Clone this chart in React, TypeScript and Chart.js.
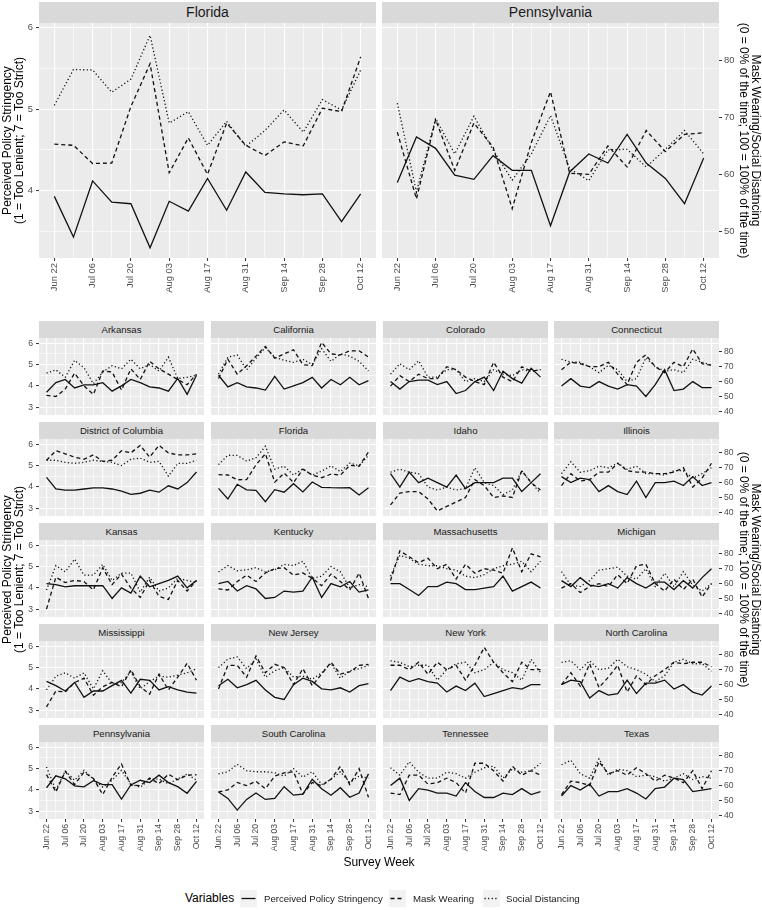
import React, { useEffect, useRef } from 'react';
import { Chart, registerables } from 'chart.js';
Chart.register(...registerables);

const FONT = "'Liberation Sans', Arial, Helvetica, sans-serif";

const WEEKS = ['Jun 22','Jun 29','Jul 06','Jul 13','Jul 20','Jul 27','Aug 03','Aug 10','Aug 17','Aug 24','Aug 31','Sep 07','Sep 14','Sep 21','Sep 28','Oct 05','Oct 12'];
const SERIES = ['Perceived Policy Stringency', 'Mask Wearing', 'Social Distancing'];
const Y_BREAKS_TOP = [4, 5, 6];
const Y_BREAKS_SMALL = [3, 4, 5, 6];
const PCT_BREAKS_TOP = [50, 60, 70, 80];
const PCT_BREAKS_SMALL = [40, 50, 60, 70, 80];

// Stringency on 1-7 scale; mask / distancing in percent
const FL_S = [3.93,3.43,4.12,3.86,3.84,3.30,3.87,3.75,4.15,3.76,4.23,3.98,3.96,3.95,3.96,3.62,3.96];
const FL_M = [65.3,65.1,61.9,62.0,71.9,79.4,60.3,66.4,60.0,69.0,65.1,63.3,65.7,65.0,71.6,71.0,80.6];
const FL_D = [72.1,78.4,78.3,74.4,76.7,84.4,69.0,71.0,65.1,69.3,64.9,67.7,71.3,67.4,73.1,71.3,78.3];
const PA_S = [4.10,4.66,4.52,4.19,4.14,4.43,4.25,4.25,3.57,4.23,4.45,4.34,4.69,4.34,4.15,3.84,4.40];
const PA_M = [67.4,55.7,69.6,60.7,69.0,64.8,54.0,65.6,74.5,60.2,60.0,65.0,61.3,67.7,64.0,67.0,67.3];
const PA_D = [72.5,56.9,69.8,63.6,70.2,64.3,59.0,63.6,70.3,61.0,58.9,64.3,64.4,61.3,64.4,67.7,63.6];
const AR_S = [3.70,4.15,4.30,3.90,4.05,4.05,4.15,3.75,4.00,4.30,4.15,3.95,3.90,3.75,4.35,3.60,4.50];
const AR_M = [50.7,50.0,55.0,65.7,57.1,51.4,67.1,66.4,54.3,68.6,61.4,73.6,68.6,65.0,61.4,57.9,65.0];
const AR_D = [65.7,67.9,62.9,74.3,69.3,58.6,66.4,70.7,68.6,75.0,68.6,71.4,67.1,76.4,62.1,62.9,64.3];
const CA_S = [4.50,3.95,4.15,3.95,3.90,3.80,4.45,3.85,4.00,4.15,4.40,3.90,4.30,4.05,4.40,4.05,4.25];
const CA_M = [62.1,75.0,65.0,70.7,77.1,83.6,75.7,78.6,81.4,71.4,70.7,86.4,78.6,77.9,80.7,80.7,76.4];
const CA_D = [65.0,76.4,77.9,67.9,75.7,82.9,76.4,74.3,72.9,75.0,71.4,82.1,73.6,78.6,77.1,73.6,67.1];
const CO_S = [4.20,3.85,4.20,4.27,4.27,4.06,4.20,3.64,3.78,4.20,4.41,3.78,4.69,4.34,4.13,4.83,4.41];
const CO_M = [57,64,60,65,62,62,70,68,63,60,58,73,63,60,70,67,68];
const CO_D = [65,72,68,74,63,63,68,68,60,62,60,68,65,64,68,67,68];
const CT_S = [3.99,4.34,3.99,3.92,4.20,3.99,3.85,4.06,3.99,3.50,4.06,4.76,3.78,3.85,4.20,3.92,3.92];
const CT_M = [68,73,72,70,70,73,65,58,73,78,70,66,73,70,82,72,71];
const CT_D = [75,73,73,70,66,71,68,60,62,76,70,67,68,66,75,73,71];
const DC_S = [4.45,3.90,3.85,3.85,3.90,3.95,3.95,3.90,3.80,3.65,3.70,3.85,3.75,4.05,3.90,4.20,4.70];
const DC_M = [75.0,81.4,79.3,77.1,75.7,78.6,74.3,75.0,81.4,80.0,85.0,77.1,85.0,80.0,78.6,78.6,79.3];
const DC_D = [75.0,75.0,73.6,72.9,73.6,75.0,74.3,73.6,71.4,75.7,76.4,73.6,74.3,64.3,72.9,72.9,75.0];
const ID_S = [4.62,3.99,4.69,4.20,4.41,4.20,3.99,4.55,3.92,4.20,4.20,4.20,4.41,4.41,3.78,4.20,4.62];
const ID_M = [45,53,54,54,49,41,44,47,50,62,58,50,51,50,68,60,55];
const ID_D = [67,69,67,66,57,55,57,55,56,70,60,58,52,55,68,60,53];
const IL_S = [4.48,4.20,4.41,4.34,3.78,4.06,3.78,3.64,4.27,3.50,4.20,4.20,4.27,4.06,4.48,4.06,4.20];
const IL_M = [58,66,61,62,67,67,73,68,67,67,66,66,67,70,57,63,73];
const IL_D = [66,74,67,68,71,70,73,69,71,66,66,65,68,68,63,66,70];
const KS_S = [4.20,4.15,4.05,4.10,4.10,4.10,4.10,3.50,4.00,3.75,4.55,4.05,4.20,4.35,4.55,4.00,4.35];
const KS_M = [42.9,64.3,60.7,62.1,61.4,55.7,70.7,59.3,66.4,57.1,50.7,62.1,51.4,49.3,62.1,55.0,62.1];
const KS_D = [55.7,72.1,67.9,76.4,65.7,65.7,72.9,62.1,67.1,67.1,54.3,64.3,55.0,57.1,63.6,62.1,60.7];
const KY_S = [4.20,4.30,3.85,4.10,3.95,3.50,3.55,3.85,3.80,3.85,4.50,3.55,4.20,4.05,4.30,3.80,3.90];
const KY_M = [56.4,55.7,61.4,65.7,61.4,67.1,70.0,70.7,65.7,67.1,63.6,58.6,66.4,61.4,55.7,67.1,50.0];
const KY_D = [67.9,72.1,68.6,69.3,70.7,67.9,69.3,72.9,72.1,75.0,63.6,65.0,71.4,67.9,57.1,59.3,57.9];
const MA_S = [4.20,4.20,3.92,3.64,4.06,4.06,4.27,4.20,3.92,3.92,3.99,4.06,4.55,3.85,4.06,4.27,3.99];
const MA_M = [62,82,78,74,77,70,73,63,73,67,70,69,67,84,68,80,78];
const MA_D = [65,79,77,73,72,72,70,69,65,64,66,70,72,73,75,68,75];
const MI_S = [4.34,4.06,4.48,4.13,4.06,4.20,3.99,4.48,4.20,3.99,4.27,4.27,3.92,4.34,3.99,4.48,4.90];
const MI_M = [57,60,54,58,60,58,66,60,72,73,60,55,63,56,63,51,60];
const MI_D = [68,59,58,62,69,70,71,65,63,70,58,67,58,68,59,55,60];
const MS_S = [4.35,4.15,3.90,4.30,3.60,3.90,3.90,4.15,4.40,3.80,4.45,4.40,3.95,4.10,3.95,3.85,3.80];
const MS_M = [45.0,55.7,55.0,61.4,64.3,52.9,58.6,61.4,58.6,70.0,58.6,53.6,67.1,56.4,65.0,74.3,62.9];
const MS_D = [56.4,65.7,67.9,64.3,67.9,57.1,69.3,60.7,61.4,68.6,57.1,62.1,65.7,65.0,66.4,67.9,70.7];
const NJ_S = [4.15,4.45,4.05,4.20,4.40,3.95,3.60,3.50,4.20,4.50,4.35,4.00,3.95,4.05,3.85,4.15,4.25];
const NJ_M = [57.1,72.9,72.9,65.0,79.3,67.9,73.6,71.4,60.0,70.7,59.3,67.1,75.0,67.1,68.6,72.9,73.6];
const NJ_D = [71.4,77.1,78.6,70.7,77.1,65.0,69.3,71.4,65.0,65.7,63.6,67.9,74.3,64.3,69.3,70.7,72.9];
const NY_S = [3.92,4.55,4.34,4.48,4.34,4.27,3.85,4.13,3.92,4.27,3.64,3.78,3.92,4.06,3.99,4.20,4.20];
const NY_M = [73,73,70,75,67,75,70,73,63,73,85,75,68,62,75,70,70];
const NY_D = [76,75,72,73,73,63,70,74,75,68,70,75,70,68,63,77,68];
const NC_S = [4.20,4.41,4.34,3.57,3.92,3.71,3.78,4.41,3.78,4.27,4.27,4.41,3.99,4.20,3.85,3.71,4.13];
const NC_M = [60,68,59,74,58,65,73,55,66,60,66,70,75,74,75,75,72];
const NC_D = [75,76,70,76,70,71,77,72,70,67,62,66,75,77,74,74,69];
const SC_S = [3.90,3.60,3.05,3.55,3.85,3.55,3.60,4.15,3.75,3.80,4.50,4.05,3.75,4.10,3.65,3.85,4.75];
const SC_M = [55.7,57.1,62.1,60.0,62.9,57.9,66.4,68.6,69.3,54.3,62.1,60.0,64.3,72.9,60.7,71.4,52.1];
const SC_D = [67.9,69.3,74.3,70.0,69.3,69.3,68.6,66.4,71.4,65.7,69.3,60.7,64.3,69.3,62.1,66.4,65.0];
const TN_S = [4.20,4.55,3.50,4.06,3.99,3.85,3.85,3.71,4.34,3.92,3.64,3.64,3.85,3.78,4.06,3.78,3.92];
const TN_M = [55,54,67,67,61,62,65,62,55,75,75,70,63,73,67,70,67];
const TN_D = [72,67,76,69,65,65,69,68,65,69,72,73,65,71,69,70,75];
const TX_S = [3.71,4.20,3.99,4.27,3.71,3.92,3.92,4.06,3.85,3.57,4.06,4.13,4.55,4.48,3.92,3.99,4.06];
const TX_M = [54,63,62,60,76,68,70,67,72,68,63,67,65,62,70,58,70];
const TX_D = [74,77,68,65,78,67,71,70,66,67,66,63,65,68,64,66,65];

const SMALL: [string, number[], number[], number[]][] = [
  ['Arkansas', AR_S, AR_M, AR_D], ['California', CA_S, CA_M, CA_D], ['Colorado', CO_S, CO_M, CO_D], ['Connecticut', CT_S, CT_M, CT_D],
  ['District of Columbia', DC_S, DC_M, DC_D], ['Florida', FL_S, FL_M, FL_D], ['Idaho', ID_S, ID_M, ID_D], ['Illinois', IL_S, IL_M, IL_D],
  ['Kansas', KS_S, KS_M, KS_D], ['Kentucky', KY_S, KY_M, KY_D], ['Massachusetts', MA_S, MA_M, MA_D], ['Michigan', MI_S, MI_M, MI_D],
  ['Mississippi', MS_S, MS_M, MS_D], ['New Jersey', NJ_S, NJ_M, NJ_D], ['New York', NY_S, NY_M, NY_D], ['North Carolina', NC_S, NC_M, NC_D],
  ['Pennsylvania', PA_S, PA_M, PA_D], ['South Carolina', SC_S, SC_M, SC_D], ['Tennessee', TN_S, TN_M, TN_D], ['Texas', TX_S, TX_M, TX_D],
];

const DASHES: number[][] = [[], [4, 3], [1.2, 2.4]];

type Spec = {
  name: string; px: number; py: number; pw: number; ph: number; stripH: number; stripFont: number;
  left: boolean; right: boolean; bottom: boolean; big: boolean;
  s: number[]; m: number[]; d: number[];
};

const PAD_T = 8, PAD_L = 39, PAD_R = 32, PAD_B = 48;
const toPct = (v: number) => (v * 100) / 7;

const bgPlugin = {
  id: 'panelBg',
  beforeDraw(chart: any) {
    const { ctx, chartArea: a } = chart;
    ctx.save();
    ctx.fillStyle = '#ebebeb';
    ctx.fillRect(a.left, a.top, a.right - a.left, a.bottom - a.top);
    ctx.restore();
  },
};

function Panel({ spec }: { spec: Spec }) {
  const ref = useRef<HTMLCanvasElement>(null);
  const padL = spec.left ? PAD_L : 0;
  const padR = spec.right ? PAD_R : 0;
  const padB = spec.bottom ? PAD_B : 0;
  const cw = spec.pw + padL + padR;
  const ch = spec.ph + PAD_T + padB;

  useEffect(() => {
    if (!ref.current) return;
    const yMin = spec.big ? 3.174 : 2.63;
    const yMax = spec.big ? 6.058 : 6.25;
    const majors = spec.big ? Y_BREAKS_TOP : Y_BREAKS_SMALL;
    const minors = [...majors.map((v) => v - 0.5), majors[majors.length - 1] + 0.5].filter((v) => v > yMin && v < yMax);
    const yAll = [...majors, ...minors].sort((a, b) => a - b);
    const pctBreaks = spec.big ? PCT_BREAKS_TOP : PCT_BREAKS_SMALL;
    const fs = spec.big ? 9.4 : 8.6;
    const tickFont = { family: FONT, size: fs };
    const isMajor = (v: number) => majors.includes(v);
    const series = [spec.s, spec.m, spec.d];

    const chart = new Chart(ref.current, {
      type: 'line',
      data: {
        datasets: series.map((arr, k) => ({
          label: SERIES[k],
          data: arr.map((v, i) => ({ x: i, y: v })),
          yAxisID: k === 0 ? 'y' : 'y1',
          borderColor: '#111111',
          borderWidth: 1.3,
          borderDash: DASHES[k],
          pointRadius: 0,
          tension: 0,
          fill: false,
        })),
      },
      options: {
        responsive: false,
        animation: false,
        devicePixelRatio: 1,
        layout: { padding: { top: PAD_T, left: 0, right: 0, bottom: 0 } },
        plugins: { legend: { display: false }, tooltip: { enabled: false } },
        scales: {
          x: {
            type: 'linear',
            min: -0.8,
            max: WEEKS.length - 1 + 0.8,
            afterBuildTicks: (s: any) => { s.ticks = WEEKS.map((_, i) => ({ value: i })); },
            afterFit: (s: any) => { s.height = padB; s.paddingLeft = 0; s.paddingRight = 0; },
            border: { display: false },
            grid: {
              color: '#ffffff',
              lineWidth: (c: any) => (c.index % 2 === 0 ? 1.1 : 0.6),
              drawTicks: spec.bottom,
              tickLength: 3,
              tickWidth: 1,
              tickColor: (c: any) => (c.index % 2 === 0 ? '#333333' : 'rgba(0,0,0,0)'),
            },
            ticks: {
              display: spec.bottom,
              autoSkip: false,
              minRotation: 90,
              maxRotation: 90,
              padding: 2,
              color: '#4d4d4d',
              font: tickFont,
              callback: (_v: any, i: number) => (i % 2 === 0 ? WEEKS[i] : ''),
            },
          },
          y: {
            type: 'linear',
            position: 'left',
            min: yMin,
            max: yMax,
            afterBuildTicks: (s: any) => { s.ticks = yAll.map((v) => ({ value: v })); },
            afterFit: (s: any) => { s.width = padL; s.paddingTop = 0; s.paddingBottom = 0; },
            border: { display: false },
            grid: {
              color: '#ffffff',
              lineWidth: (c: any) => (c.tick && isMajor(c.tick.value) ? 1.1 : 0.6),
              drawTicks: spec.left,
              tickLength: 3,
              tickWidth: 1,
              tickColor: (c: any) => (c.tick && isMajor(c.tick.value) ? '#333333' : 'rgba(0,0,0,0)'),
            },
            ticks: {
              display: spec.left,
              autoSkip: false,
              padding: 3,
              color: '#4d4d4d',
              font: tickFont,
              callback: (v: any) => (isMajor(Number(v)) ? String(v) : ''),
            },
          },
          y1: {
            type: 'linear',
            position: 'right',
            display: spec.right,
            min: toPct(yMin),
            max: toPct(yMax),
            afterBuildTicks: (s: any) => { s.ticks = pctBreaks.map((v) => ({ value: v })); },
            afterFit: (s: any) => { s.width = padR; s.paddingTop = 0; s.paddingBottom = 0; },
            border: { display: false },
            grid: { drawOnChartArea: false, drawTicks: true, tickLength: 3, tickWidth: 1, tickColor: '#333333' },
            ticks: { autoSkip: false, padding: 2, color: '#4d4d4d', font: tickFont },
          },
        },
      } as any,
      plugins: [bgPlugin],
    });
    return () => chart.destroy();
  }, []);

  return (
    <>
      <canvas
        ref={ref}
        width={cw}
        height={ch}
        style={{ position: 'absolute', left: spec.px - padL, top: spec.py - PAD_T, width: cw, height: ch }}
      />
      <div
        style={{
          position: 'absolute', left: spec.px, top: spec.py - spec.stripH, width: spec.pw, height: spec.stripH,
          background: '#d9d9d9', color: '#1a1a1a', fontFamily: FONT, fontSize: spec.stripFont,
          lineHeight: `${spec.stripH}px`, textAlign: 'center', whiteSpace: 'nowrap', overflow: 'hidden',
        }}
      >
        {spec.name}
      </div>
    </>
  );
}

function VTitle({ cx, cy, lines, rot }: { cx: number; cy: number; lines: string[]; rot: number }) {
  const W = 440, H = 23;
  return (
    <div
      style={{
        position: 'absolute', left: cx - W / 2, top: cy - H / 2, width: W, height: H,
        transform: `rotate(${rot}deg)`, textAlign: 'center', fontFamily: FONT, fontSize: 12,
        lineHeight: '11.5px', color: '#000', whiteSpace: 'nowrap',
      }}
    >
      {lines[0]}
      <br />
      {lines[1]}
    </div>
  );
}

const LEFT_TITLE = ['Perceived Policy Stringency', '(1 = Too Lenient; 7 = Too Strict)'];
const RIGHT_TITLE = ['Mask Wearing/Social Disatncing', '(0 = 0% of the time; 100 = 100% of the time)'];

export default function App() {
  const specs: Spec[] = [
    { name: 'Florida', px: 39, py: 23, pw: 337, ph: 235, stripH: 21, stripFont: 14, left: true, right: false, bottom: true, big: true, s: FL_S, m: FL_M, d: FL_D },
    { name: 'Pennsylvania', px: 382, py: 23, pw: 337, ph: 235, stripH: 21, stripFont: 14, left: false, right: true, bottom: true, big: true, s: PA_S, m: PA_M, d: PA_D },
  ];
  const COLS = [39, 211, 383, 554];
  SMALL.forEach((st, k) => {
    const r = Math.floor(k / 4), c = k % 4;
    specs.push({
      name: st[0], px: COLS[c], py: Math.round(338.3 + 100.85 * r), pw: 165, ph: 77, stripH: 17.5, stripFont: 9.6,
      left: c === 0, right: c === 3, bottom: r === 4, big: false, s: st[1], m: st[2], d: st[3],
    });
  });

  const keyX = [240, 389, 483];
  const labelX = [264, 413, 506];

  return (
    <div style={{ position: 'fixed', left: 0, top: 0, width: 762, height: 910, background: '#fff', overflow: 'hidden' }}>
      {specs.map((s, i) => <Panel key={i} spec={s} />)}
      <VTitle cx={12.75} cy={140.5} lines={LEFT_TITLE} rot={-90} />
      <VTitle cx={748.75} cy={140.5} lines={RIGHT_TITLE} rot={90} />
      <VTitle cx={12.75} cy={569.5} lines={LEFT_TITLE} rot={-90} />
      <VTitle cx={748.75} cy={569.5} lines={RIGHT_TITLE} rot={90} />
      <div style={{ position: 'absolute', left: 279, top: 854, width: 200, textAlign: 'center', fontFamily: FONT, fontSize: 12, lineHeight: '16px', color: '#000' }}>
        Survey Week
      </div>
      <div style={{ position: 'absolute', left: 185, top: 890, height: 17, lineHeight: '17px', fontFamily: FONT, fontSize: 12, color: '#000', whiteSpace: 'nowrap' }}>
        Variables
      </div>
      {SERIES.map((name, k) => (
        <React.Fragment key={name}>
          <svg width={17} height={17} style={{ position: 'absolute', left: keyX[k], top: 890, background: '#f2f2f2' }}>
            <line x1={1.5} x2={15.5} y1={8.5} y2={8.5} stroke="#111111" strokeWidth={1.3} strokeDasharray={DASHES[k].length ? DASHES[k].join(' ') : undefined} />
          </svg>
          <div style={{ position: 'absolute', left: labelX[k], top: 890, height: 17, lineHeight: '17px', fontFamily: FONT, fontSize: 9.6, color: '#1a1a1a', whiteSpace: 'nowrap' }}>
            {name}
          </div>
        </React.Fragment>
      ))}
    </div>
  );
}
